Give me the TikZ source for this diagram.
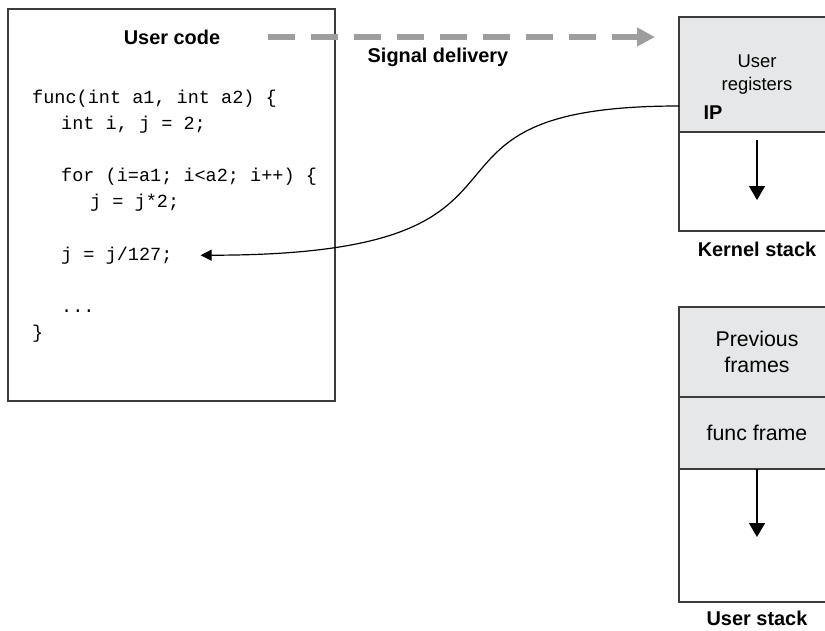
\documentclass[tikz,border=0pt]{standalone}
\usepackage{fontspec}
\setmainfont{Liberation Sans}
\setmonofont{Liberation Mono}
\usetikzlibrary{arrows.meta,positioning}
\definecolor{boxgray}{RGB}{230,231,232}
\definecolor{siggray}{RGB}{158,158,158}
\definecolor{edgegray}{RGB}{60,60,60}

\begin{document}
\begin{tikzpicture}[x=1bp, y=-1bp,
  box/.style={draw=edgegray, line width=1.3bp, minimum width=156bp, inner sep=0pt, outer sep=0pt},
  shade/.style={box, fill=boxgray},
  head/.style={font=\fontsize{20}{24}\selectfont\bfseries},
  body/.style={align=center, font=\fontsize{18.5}{23}\selectfont},
  big/.style={align=center, font=\fontsize{21.4}{26}\selectfont},
  code/.style={font=\fontsize{18.6}{22}\selectfont\ttfamily, anchor=base west, inner sep=0pt},
  sig/.style={draw=siggray, line width=5.5bp, dash pattern=on 27bp off 16bp, -{Triangle[length=18bp, width=18bp, fill=siggray]}},
  jump/.style={line width=1.2bp, -{Triangle[length=11bp, width=11bp]}},
  down/.style={line width=1.5bp, -{Triangle[length=14bp, width=16bp]}}]
\useasboundingbox (0,0) rectangle (825,631);

\node[box, minimum width=327bp, minimum height=392bp] (src) at (171.5,205) {};
\node[head] (ucode) at (172,37) {User code};
\node[code] (l0) at (32,104) {func(int a1, int a2) \{};
\node[code] (l1) at (61,130) {int i, j = 2;};
\node[code] (l2) at (61,182) {for (i=a1; i<a2; i++) \{};
\node[code] (l3) at (90,208) {j = j*2;};
\node[code] (jline) at (61,260) {j = j/127;};
\node[code] (l5) at (61,312) {...};
\node[code] (l6) at (32,338) {\}};

\node[shade, body, minimum height=115bp] (regs) at (757,74.5) {User\\registers};
\node[head, anchor=west] (ip) at (700,113) {IP};
\node[box, minimum height=99bp, below=0pt of regs] (kfree) {};
\node[head, anchor=base] (kname) at (757,256) {Kernel stack};

\node[shade, big, minimum height=90bp] (prev) at (757,352) {Previous\\frames};
\node[shade, big, minimum height=72bp, below=0pt of prev] (fframe) {func frame};
\node[box, minimum height=133bp, below=0pt of fframe] (ufree) {};
\node[head, anchor=base] (uname) at (757,625) {User stack};

\draw[sig, shorten <=44bp, shorten >=24bp] (ucode.east) -- (ucode.east -| regs.west);
\node[head] (sigtxt) at (438,57) {Signal delivery};

\coordinate (ipedge) at (679,106);
\draw[jump] (ipedge) .. controls +(-306,0) and +(387,0) .. ([xshift=28bp]jline.east);
\draw[down] ([yshift=-8bp]kfree.north) -- ([yshift=31bp]kfree.south);
\draw[down] (fframe.south) -- ([yshift=65bp]ufree.south);
\end{tikzpicture}
\end{document}
